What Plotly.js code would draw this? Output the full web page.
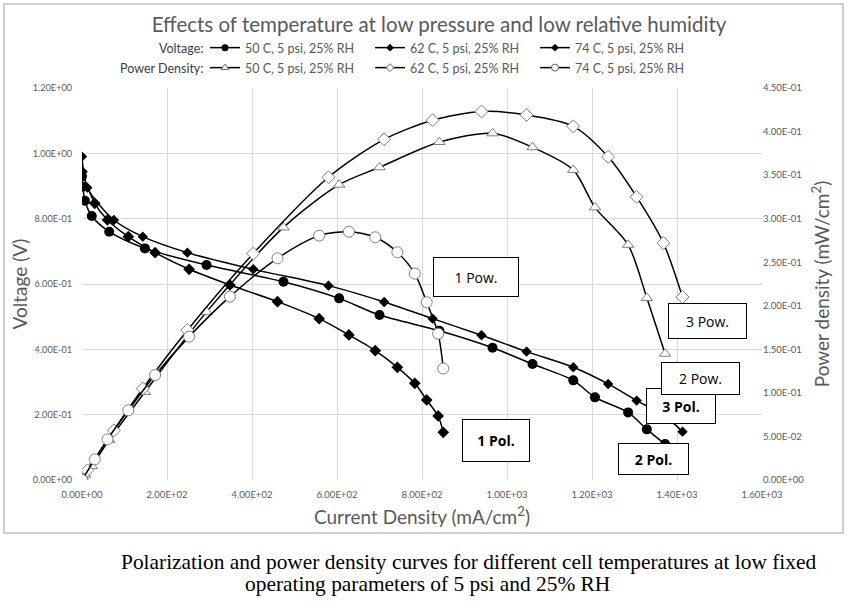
<!DOCTYPE html>
<html>
<head>
<meta charset="utf-8">
<script src="https://cdn.plot.ly/plotly-3.0.1.min.js"></script>
<style>
  html, body { margin: 0; padding: 0; background: #fff; }
  #chart { width: 857px; height: 604px; }
</style>
</head>
<body>
<div id="chart"></div>
<script>
// ---- Data ----
const cur50 = [0, 2, 7, 23, 64, 148, 293, 474, 605, 700, 841, 966, 1060, 1156, 1207, 1285, 1329, 1372];
const volt50 = [0.93, 0.898, 0.855, 0.808, 0.76, 0.709, 0.658, 0.607, 0.556, 0.505, 0.457, 0.405, 0.355, 0.305, 0.253, 0.207, 0.155, 0.11];
const pow50 = [0, 0.002, 0.006, 0.016, 0.046, 0.101, 0.193, 0.290, 0.339, 0.359, 0.388, 0.398, 0.382, 0.356, 0.313, 0.270, 0.209, 0.145];

const cur62 = [0, 12.5, 75, 143, 248, 403, 580, 711, 825, 940, 1046, 1156, 1238, 1305, 1368, 1413];
const volt62 = [0.99, 0.895, 0.796, 0.745, 0.696, 0.645, 0.595, 0.545, 0.494, 0.443, 0.393, 0.345, 0.294, 0.243, 0.199, 0.148];
const pow62 = [0, 0.011, 0.057, 0.105, 0.172, 0.260, 0.3475, 0.391, 0.413, 0.423, 0.419, 0.406, 0.371, 0.325, 0.272, 0.210];

const cur74 = [0, 30, 60, 109, 172, 252, 348, 460, 558, 628, 690, 742, 783, 811, 838, 850];
const volt74 = [0.944, 0.847, 0.796, 0.745, 0.696, 0.645, 0.597, 0.546, 0.494, 0.444, 0.396, 0.345, 0.296, 0.245, 0.196, 0.146];
const pow74 = [0, 0.0237, 0.0467, 0.080, 0.1205, 0.1646, 0.2105, 0.2545, 0.2805, 0.285, 0.2786, 0.2614, 0.237, 0.204, 0.168, 0.128];

const seriesNames = ['50 C, 5 psi, 25% RH', '62 C, 5 psi, 25% RH', '74 C, 5 psi, 25% RH'];

const xTickVals = [0, 200, 400, 600, 800, 1000, 1200, 1400, 1600];
const xTickText = ['0.00E+00', '2.00E+02', '4.00E+02', '6.00E+02', '8.00E+02', '1.00E+03', '1.20E+03', '1.40E+03', '1.60E+03'];
const yTickVals = [0, 0.2, 0.4, 0.6, 0.8, 1.0, 1.2];
const yTickText = ['0.00E+00', '2.00E-01', '4.00E-01', '6.00E-01', '8.00E-01', '1.00E+00', '1.20E+00'];
const y2TickVals = [0, 0.05, 0.1, 0.15, 0.2, 0.25, 0.3, 0.35, 0.4, 0.45];
const y2TickText = ['0.00E+00', '5.00E-02', '1.00E-01', '1.50E-01', '2.00E-01', '2.50E-01', '3.00E-01', '3.50E-01', '4.00E-01', '4.50E-01'];

const boxLabels = ['1 Pow.', '1 Pol.', '3 Pow.', '3 Pol.', '2 Pow.', '2 Pol.'];
const captionLines = ['Polarization and power density curves for different cell temperatures at low fixed', 'operating parameters of 5 psi and 25% RH'];

// ---- Styles ----
const FONT = 'Lato, "Open Sans", sans-serif';
const GREY = '#595959';
const lineStyle = { color: '#000', width: 1.5, shape: 'spline', smoothing: 0.8 };

function volt(x, y, name, symbol, size, legendSize) {
  const t = {
    x: x, y: y, name: name, type: 'scatter', mode: 'lines+markers',
    line: lineStyle, marker: { symbol: symbol, size: size, color: '#000' },
    yaxis: 'y', showlegend: false
  };
  // legend-only twin (no data points) with the small legend marker
  const l = { x: [null], y: [null], name: name, type: 'scatter', mode: 'lines+markers',
    line: lineStyle, marker: { symbol: symbol, size: legendSize, color: '#000' },
    legend: 'legend', yaxis: 'y', hoverinfo: 'skip' };
  return [t, l];
}
function pow(x, y, name, symbol, size, legendSize) {
  const t = {
    x: x, y: y, name: name, type: 'scatter', mode: 'lines+markers',
    line: lineStyle, marker: { symbol: symbol, size: size, color: '#fff', line: { color: '#808080', width: 1 } },
    yaxis: 'y2', showlegend: false
  };
  const l = { x: [null], y: [null], name: name, type: 'scatter', mode: 'lines+markers',
    line: lineStyle, marker: { symbol: symbol, size: legendSize, color: '#fff', line: { color: '#606060', width: 1 } },
    legend: 'legend2', yaxis: 'y2', hoverinfo: 'skip' };
  return [t, l];
}

const traces = [].concat(
  volt(cur50, volt50, seriesNames[0], 'circle', 10, 7),
  volt(cur62, volt62, seriesNames[1], 'diamond', 8, 6),
  volt(cur74, volt74, seriesNames[2], 'diamond', 9, 6),
  pow(cur50, pow50, seriesNames[0], 'triangle-up', 10, 7),
  pow(cur62, pow62, seriesNames[1], 'diamond', 10, 6),
  pow(cur74, pow74, seriesNames[2], 'circle', 11, 7)
);

// plot area: left 82, right 762, top 88, bottom 480 (pixels)
function box(text, cx, cy, w, h, bold) {
  return {
    text: bold ? '<b>' + text + '</b>' : text,
    xref: 'paper', yref: 'paper',
    x: (cx - 82) / 680, y: (480 - cy) / 392,
    xanchor: 'center', yanchor: 'middle', showarrow: false,
    width: w, height: h, borderpad: 0,
    bordercolor: '#000', borderwidth: 1, bgcolor: '#fff',
    font: { family: '"Open Sans", Lato, sans-serif', size: 14, color: '#000' }
  };
}

const annotations = [
  box(boxLabels[0], 476, 277, 84, 38, false),
  box(boxLabels[1], 496, 440, 66, 41, true),
  box(boxLabels[2], 707, 321, 77, 34, false),
  box(boxLabels[3], 681, 406, 68, 34, true),
  box(boxLabels[4], 700, 378, 77, 31, false),
  box(boxLabels[5], 653, 459, 69, 30, true),
  { text: 'Voltage:', xref: 'paper', yref: 'paper', x: (205 - 82) / 680, y: (480 - 48) / 392,
    xanchor: 'right', yanchor: 'middle', showarrow: false, font: { family: FONT, size: 12.5, color: '#404040' } },
  { text: 'Power Density:', xref: 'paper', yref: 'paper', x: (205 - 82) / 680, y: (480 - 68) / 392,
    xanchor: 'right', yanchor: 'middle', showarrow: false, font: { family: FONT, size: 12.5, color: '#404040' } },
  { text: captionLines[0], xref: 'paper', yref: 'paper', x: (468 - 82) / 680, y: (480 - 562) / 392,
    xanchor: 'center', yanchor: 'middle', showarrow: false, font: { family: '"Liberation Serif", serif', size: 21.4, color: '#000' } },
  { text: captionLines[1], xref: 'paper', yref: 'paper', x: (427 - 82) / 680, y: (480 - 584) / 392,
    xanchor: 'center', yanchor: 'middle', showarrow: false, font: { family: '"Liberation Serif", serif', size: 21.4, color: '#000' } }
];

const legendCommon = {
  orientation: 'h', xanchor: 'left', yanchor: 'middle',
  entrywidth: 120, entrywidthmode: 'pixels', itemwidth: 30,
  font: { family: FONT, size: 12.5, color: GREY },
  bgcolor: 'rgba(0,0,0,0)', borderwidth: 0, tracegroupgap: 0
};

const layout = {
  width: 857, height: 604,
  margin: { l: 82, r: 95, t: 88, b: 124 },
  paper_bgcolor: '#fff', plot_bgcolor: '#fff',
  showlegend: true,
  title: { text: 'Effects of temperature at low pressure and low relative humidity',
    x: 439 / 857, xref: 'container', xanchor: 'center', y: 1 - 25 / 604, yref: 'container', yanchor: 'middle',
    font: { family: FONT, size: 20.5, color: GREY } },
  xaxis: {
    range: [0, 1600], tickvals: xTickVals, ticktext: xTickText,
    showgrid: true, gridcolor: '#d9d9d9', gridwidth: 1, zeroline: false, showline: false,
    ticks: 'outside', ticklen: 6, tickcolor: 'rgba(0,0,0,0)', tickfont: { family: FONT, size: 9.5, color: GREY },
    title: { text: 'Current Density (mA/cm<sup>2</sup>)', font: { family: FONT, size: 19, color: GREY }, standoff: 11 }
  },
  yaxis: {
    range: [0, 1.2], tickvals: yTickVals, ticktext: yTickText,
    showgrid: true, gridcolor: '#d9d9d9', gridwidth: 1, zeroline: false, showline: false,
    ticks: 'outside', ticklen: 7, tickcolor: 'rgba(0,0,0,0)', tickfont: { family: FONT, size: 9.2, color: GREY },
    title: { text: 'Voltage (V)', font: { family: FONT, size: 19, color: GREY }, standoff: 0 }
  },
  yaxis2: {
    range: [0, 0.45], tickvals: y2TickVals, ticktext: y2TickText,
    overlaying: 'y', side: 'right',
    showgrid: false, zeroline: false, showline: false,
    ticks: '', tickfont: { family: FONT, size: 9.5, color: GREY },
    title: { text: 'Power density (mW/cm<sup>2</sup>)', font: { family: FONT, size: 19, color: GREY }, standoff: 12 }
  },
  legend: Object.assign({}, legendCommon, { x: (205 - 82) / 680, y: (480 - 48) / 392 }),
  legend2: Object.assign({}, legendCommon, { x: (205 - 82) / 680, y: (480 - 68) / 392 }),
  annotations: annotations,
  shapes: [{
    type: 'rect', xref: 'paper', yref: 'paper',
    x0: (4 - 82) / 680, x1: (843 - 82) / 680, y0: (480 - 533) / 392, y1: (480 - 4) / 392,
    line: { color: '#bfbfbf', width: 1.5 }, fillcolor: 'rgba(0,0,0,0)', layer: 'below'
  }]
};

Plotly.newPlot('chart', traces, layout, { displayModeBar: false, staticPlot: true });
</script>
</body>
</html>
